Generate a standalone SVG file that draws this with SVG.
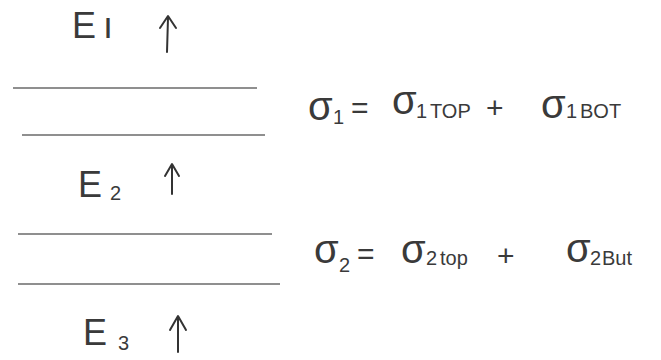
<svg xmlns="http://www.w3.org/2000/svg" width="661" height="360" viewBox="0 0 661 360">
<style>
.t{font-family:"Liberation Sans",Arial,sans-serif;fill:#3a3a3a;}
.big{font-size:36px;}
.sig{font-size:40px;}
.sub{font-size:20px;}
.sm{font-size:20px;}
.op{font-size:30px;}
.ln{stroke:#6a6a6a;stroke-width:1.6;fill:none;}
.ar{stroke:#333;stroke-width:2;fill:none;stroke-linecap:round;stroke-linejoin:round;}
</style>
<rect width="661" height="360" fill="#fff"/>
<g id="layers">
<line class="ln" x1="13" y1="88" x2="257" y2="88"/>
<line class="ln" x1="22" y1="135" x2="265" y2="135"/>
<line class="ln" x1="18" y1="234" x2="272" y2="234"/>
<line class="ln" x1="18" y1="284" x2="280" y2="284"/>
</g>
<g id="E1">
<text class="t big" x="72" y="38">E<tspan x="103">ı</tspan></text>
<path class="ar" d="M167 52 L168 18 M160 28 L168 16 L176 28"/>
</g>
<g id="E2">
<text class="t big" x="78" y="197">E<tspan class="sub" x="110" y="200">2</tspan></text>
<path class="ar" d="M172 194 L172 166 M165 176 L172 164 L179 176"/>
</g>
<g id="E3">
<text class="t big" x="83" y="345">E<tspan class="sub" x="118" y="350">3</tspan></text>
<path class="ar" d="M178 352 L178 318 M170 330 L178 316 L186 330"/>
</g>
<g id="eq1">
<text class="t sig" x="308" y="120">σ<tspan class="sub" x="333" y="124">1</tspan></text>
<text class="t op" x="351" y="118">=</text>
<text class="t sig" x="392" y="114">σ<tspan class="sm" x="416" y="118">1</tspan><tspan class="sm" x="430" y="118">TOP</tspan></text>
<text class="t op" x="486" y="118">+</text>
<text class="t sig" x="541" y="118">σ<tspan class="sm" x="566" y="118">1</tspan><tspan class="sm" x="580" y="118">BOT</tspan></text>
</g>
<g id="eq2">
<text class="t sig" x="314" y="263">σ<tspan class="sub" x="339" y="272">2</tspan></text>
<text class="t op" x="357" y="264">=</text>
<text class="t sig" x="401" y="263">σ<tspan class="sm" x="426" y="265">2</tspan><tspan class="sm" x="440" y="265">top</tspan></text>
<text class="t op" x="497" y="266">+</text>
<text class="t sig" x="566" y="262">σ<tspan class="sm" x="590" y="265">2</tspan><tspan class="sm" x="602" y="265">But</tspan></text>
</g>
</svg>
